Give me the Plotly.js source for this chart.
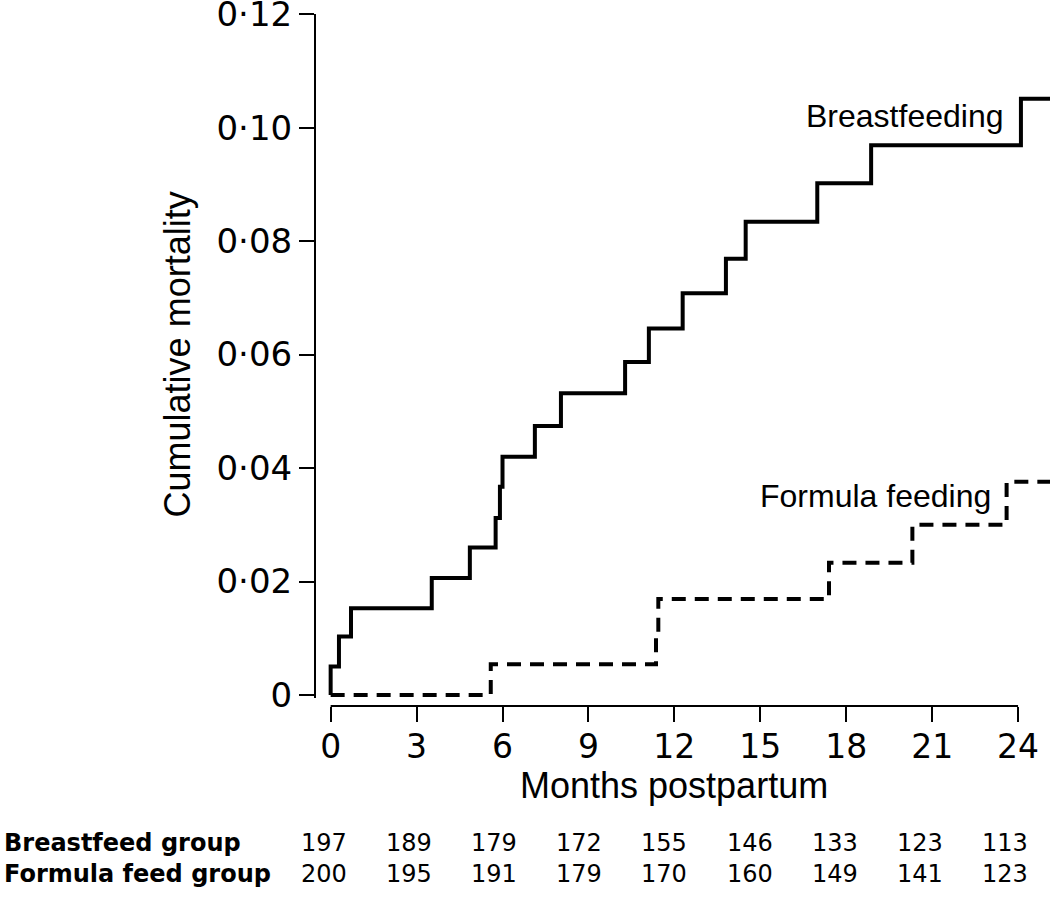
<!DOCTYPE html>
<html>
<head>
<meta charset="utf-8">
<script src="https://cdn.plot.ly/plotly-3.0.1.min.js"></script>
<style>html,body{margin:0;padding:0;background:#fff}#chart{width:1050px;height:905px}</style>
</head>
<body>
<div id="chart"></div>
<script>
// Breastfeeding group: Kaplan-Meier step points (months, cumulative mortality)
const bfMonths = [0, 0, 0.29, 0.71, 3.53, 4.86, 5.76, 5.91, 6.0, 7.13, 8.04, 10.28, 11.11, 12.29, 13.8, 14.49, 16.99, 18.87, 24.1, 25.3];
const bfMort   = [0, 0.005, 0.0103, 0.0153, 0.0206, 0.0260, 0.0312, 0.0367, 0.0420, 0.0474, 0.0532, 0.0587, 0.0646, 0.0708, 0.0769, 0.0834, 0.0902, 0.0969, 0.1051, 0.1051];
// Formula feeding group
const ffMonths = [0, 5.59, 11.36, 11.44, 17.4, 20.31, 23.6, 25.3];
const ffMort   = [0, 0.0054, 0.0106, 0.0169, 0.0233, 0.0300, 0.0376, 0.0376];

// Axes
const xTicks = [0, 3, 6, 9, 12, 15, 18, 21, 24];
const yTicks = [0, 0.02, 0.04, 0.06, 0.08, 0.10, 0.12];
const yTickText = ['0', '0·02', '0·04', '0·06', '0·08', '0·10', '0·12'];

// Numbers at risk
const riskTimes = [0, 3, 6, 9, 12, 15, 18, 21, 24];
const bfAtRisk = [197, 189, 179, 172, 155, 146, 133, 123, 113];
const ffAtRisk = [200, 195, 191, 179, 170, 160, 149, 141, 123];
const rowLabels = ['Breastfeed group', 'Formula feed group'];

const traces = [
  {x: bfMonths, y: bfMort, type: 'scatter', mode: 'lines', line: {shape: 'hv', color: '#000', width: 4}, hoverinfo: 'skip'},
  {x: ffMonths, y: ffMort, type: 'scatter', mode: 'lines', line: {shape: 'hv', color: '#000', width: 4, dash: '14px,9px'}, hoverinfo: 'skip'}
];

const annotations = [
  {text: 'Breastfeeding', xref: 'x', yref: 'y', x: 23.54, y: 0.102, xanchor: 'right', yanchor: 'middle', showarrow: false,
   font: {family: 'Liberation Sans', size: 32, color: '#000'}},
  {text: 'Formula feeding', xref: 'x', yref: 'y', x: 23.12, y: 0.035, xanchor: 'right', yanchor: 'middle', showarrow: false,
   font: {family: 'Liberation Sans', size: 32, color: '#000'}},
  {text: 'Cumulative mortality', xref: 'paper', yref: 'paper', x: -0.1878, y: 0.508, textangle: -90, showarrow: false,
   xanchor: 'center', yanchor: 'middle', font: {family: 'Liberation Sans', size: 36, color: '#000'}},
  {text: 'Months postpartum', xref: 'x', yref: 'paper', x: 12, y: -0.1145, showarrow: false,
   xanchor: 'center', yanchor: 'middle', font: {family: 'Liberation Sans', size: 36, color: '#000'}}
];
const rowY = [-0.1973, -0.2428];
rowLabels.forEach((lab, i) => {
  annotations.push({text: '<b>' + lab + '</b>', xref: 'paper', yref: 'paper', x: -0.4259, y: rowY[i], xanchor: 'left', yanchor: 'middle',
    showarrow: false, font: {family: 'DejaVu Sans', size: 24, color: '#000'}});
});
[bfAtRisk, ffAtRisk].forEach((arr, i) => {
  arr.forEach((v, j) => {
    const t = riskTimes[j];
    annotations.push({text: String(v), xref: 'x', yref: 'paper', x: t, xshift: -6.7 - 0.27 * t, y: rowY[i],
      xanchor: 'center', yanchor: 'middle', showarrow: false, font: {family: 'DejaVu Sans', size: 24, color: '#000'}});
  });
});

const layout = {
  width: 1050, height: 905,
  margin: {l: 315, r: 0, t: 14, b: 199, pad: 0},
  paper_bgcolor: '#fff', plot_bgcolor: '#fff',
  showlegend: false,
  xaxis: {domain: [0.0174, 1], range: [-0.1, 25.115], anchor: 'free', position: 0,
    showline: false, showgrid: false, zeroline: false,
    ticks: 'outside', ticklen: 15, tickwidth: 2, tickcolor: '#000',
    tickmode: 'array', tickvals: xTicks, ticklabelstandoff: -4, ticklabeloverflow: 'allow',
    tickfont: {family: 'DejaVu Sans', size: 33, color: '#000'}},
  yaxis: {domain: [0.01185, 1], range: [-0.0005, 0.12003], anchor: 'free', position: 0,
    showline: true, linewidth: 2, linecolor: '#000', showgrid: false, zeroline: false,
    ticks: 'outside', ticklen: 15, tickwidth: 2, tickcolor: '#000', ticklabeloverflow: 'allow',
    tickmode: 'array', tickvals: yTicks, ticktext: yTickText,
    tickfont: {family: 'DejaVu Sans', size: 34, color: '#000'}},
  shapes: [
    {type: 'line', xref: 'x', yref: 'paper', x0: xTicks[0], x1: xTicks[xTicks.length - 1], y0: 0, y1: 0,
     line: {color: '#000', width: 2}}
  ],
  annotations: annotations
};

Plotly.newPlot('chart', traces, layout, {staticPlot: true, displayModeBar: false});
</script>
</body>
</html>
